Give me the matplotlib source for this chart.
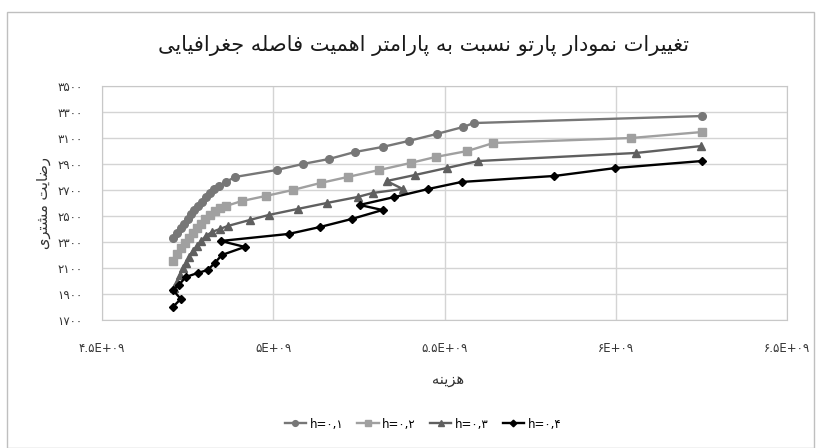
import matplotlib
matplotlib.use("Agg")
import matplotlib.pyplot as plt
from matplotlib.patches import Rectangle

# cost (x, in units of 1e9) and customer satisfaction (y)
h1_cost = [4.707, 4.719, 4.730, 4.739, 4.751, 4.759, 4.768, 4.780, 4.792, 4.803,
           4.815, 4.827, 4.841, 4.862, 4.888, 5.010, 5.086, 5.162, 5.238, 5.319,
           5.395, 5.477, 5.555, 5.585, 6.252]
h1_sat = [2331, 2369, 2408, 2438, 2477, 2515, 2546, 2577, 2608, 2646,
          2677, 2708, 2731, 2762, 2800, 2854, 2900, 2938, 2992, 3031,
          3077, 3131, 3185, 3215, 3269]

h2_cost = [4.707, 4.719, 4.730, 4.742, 4.754, 4.765, 4.777, 4.789, 4.800, 4.815,
           4.829, 4.844, 4.862, 4.908, 4.978, 5.057, 5.138, 5.217, 5.310, 5.401,
           5.474, 5.567, 5.643, 6.045, 6.252]
h2_sat = [2154, 2208, 2254, 2292, 2331, 2369, 2408, 2438, 2477, 2508,
          2538, 2562, 2577, 2615, 2654, 2700, 2754, 2800, 2854, 2908,
          2954, 3000, 3062, 3100, 3146]

h3_cost = [4.710, 4.719, 4.727, 4.736, 4.745, 4.754, 4.765, 4.777, 4.789, 4.803,
           4.821, 4.844, 4.867, 4.931, 4.987, 5.071, 5.156, 5.246, 5.290, 5.378,
           5.331, 5.413, 5.506, 5.599, 6.060, 6.249]
h3_sat = [1946, 1992, 2046, 2100, 2138, 2185, 2231, 2269, 2308, 2346,
          2377, 2400, 2423, 2469, 2508, 2554, 2600, 2646, 2677, 2708,
          2769, 2815, 2869, 2923, 2985, 3038]

h4_cost = [4.707, 4.730, 4.707, 4.724, 4.745, 4.780, 4.809, 4.829, 4.850, 4.917,
           4.847, 5.045, 5.136, 5.229, 5.319, 5.252, 5.354, 5.453, 5.550, 5.821,
           5.999, 6.252]
h4_sat = [1800, 1862, 1931, 1969, 2031, 2062, 2085, 2138, 2200, 2262,
          2308, 2362, 2415, 2477, 2546, 2585, 2646, 2708, 2762, 2808,
          2869, 2923]

y_ticks = [1700, 1900, 2100, 2300, 2500, 2700, 2900, 3100, 3300, 3500]
x_ticks = [4.5, 5.0, 5.5, 6.0, 6.5]
x_tick_labels = ["۴.۵E+۰۹", "۵E+۰۹", "۵.۵E+۰۹", "۶E+۰۹", "۶.۵E+۰۹"]
legend_labels = ["h=۰,۱", "h=۰,۲", "h=۰,۳", "h=۰,۴"]

TITLE = "تغییرات نمودار پارتو نسبت به پارامتر اهمیت فاصله جغرافیایی"
X_LABEL = "هزینه"
Y_LABEL = "رضایت مشتری"

# presentation forms: isolated, final, initial, medial (right-joining letters have 2)
FORMS = {
    "ا": "\ufe8d\ufe8e", "ب": "\ufe8f\ufe90\ufe91\ufe92", "ت": "\ufe95\ufe96\ufe97\ufe98",
    "ج": "\ufe9d\ufe9e\ufe9f\ufea0", "د": "\ufea9\ufeaa", "ر": "\ufead\ufeae",
    "ز": "\ufeaf\ufeb0", "س": "\ufeb1\ufeb2\ufeb3\ufeb4", "ش": "\ufeb5\ufeb6\ufeb7\ufeb8",
    "ص": "\ufeb9\ufeba\ufebb\ufebc", "ض": "\ufebd\ufebe\ufebf\ufec0",
    "غ": "\ufecd\ufece\ufecf\ufed0", "ف": "\ufed1\ufed2\ufed3\ufed4",
    "ل": "\ufedd\ufede\ufedf\ufee0", "م": "\ufee1\ufee2\ufee3\ufee4",
    "ن": "\ufee5\ufee6\ufee7\ufee8", "ه": "\ufee9\ufeea\ufeeb\ufeec",
    "و": "\ufeed\ufeee", "ی": "\ufbfc\ufbfd\ufbfe\ufbff", "پ": "\ufb56\ufb57\ufb58\ufb59",
}


def shape(text):
    # minimal Persian shaping + right-to-left ordering for matplotlib
    out = []
    for i, ch in enumerate(text):
        f = FORMS.get(ch)
        if f is None:
            out.append(ch)
            continue
        prev = text[i - 1] if i > 0 else ""
        nxt = text[i + 1] if i + 1 < len(text) else ""
        join_prev = prev in FORMS and len(FORMS[prev]) == 4
        join_next = len(f) == 4 and nxt in FORMS
        if join_prev and join_next:
            out.append(f[3])
        elif join_prev:
            out.append(f[1])
        elif join_next:
            out.append(f[2])
        else:
            out.append(f[0])
    return "".join(out)[::-1]


def fa_digits(n):
    return "".join("۰۱۲۳۴۵۶۷۸۹"[int(d)] for d in str(n))


plt.rcParams["font.family"] = ["DejaVu Sans"]

fig = plt.figure(figsize=(8.21, 4.48), dpi=100)
fig.patches.append(Rectangle((7 / 821, 0.0), 807 / 821, 1 - 12 / 448,
                             transform=fig.transFigure, fill=False,
                             edgecolor="#bfbfbf", linewidth=1.0))
ax = fig.add_axes([102 / 821, 1 - 320 / 448, 685 / 821, 234 / 448])

series = [
    (h1_cost, h1_sat, "o", "#777777", 5.5),
    (h2_cost, h2_sat, "s", "#a0a0a0", 5.5),
    (h3_cost, h3_sat, "^", "#5f5f5f", 6.0),
    (h4_cost, h4_sat, "D", "#000000", 4.5),
]
for (xs, ys, mk, col, ms), lab in zip(series, legend_labels):
    ax.plot(xs, ys, marker=mk, color=col, markersize=ms, linewidth=1.7,
            label=lab)

ax.set_xlim(4.5, 6.5)
ax.set_ylim(1700, 3500)
ax.set_xticks(x_ticks)
ax.set_xticklabels(x_tick_labels, fontsize=8.5, color="#333333")
ax.set_yticks(y_ticks)
ax.set_yticklabels([fa_digits(v) for v in y_ticks], fontsize=8.5,
                   color="#333333")
ax.tick_params(axis="x", length=0, pad=16)
ax.tick_params(axis="y", length=0, pad=14)
ax.grid(True, color="#d4d4d4", linewidth=1.0)
ax.set_axisbelow(True)
for s in ax.spines.values():
    s.set_color("#c8c8c8")

fig.text(423 / 821, 1 - 46 / 448, shape(TITLE), ha="center", va="center",
         fontsize=15, color="#1a1a1a")
fig.text(448 / 821, 1 - 379 / 448, shape(X_LABEL), ha="center", va="center",
         fontsize=10.5, color="#333333")
fig.text(43 / 821, 1 - 203 / 448, shape(Y_LABEL), ha="center", va="center",
         rotation=90, fontsize=10.5, color="#333333")

fig.legend(loc="center", bbox_to_anchor=(423 / 821, 1 - 424 / 448), ncol=4,
           frameon=False, fontsize=8.5, handlelength=1.8, columnspacing=1.2,
           handletextpad=0.3, markerscale=0.75)

fig.savefig("out.png", dpi=100)
